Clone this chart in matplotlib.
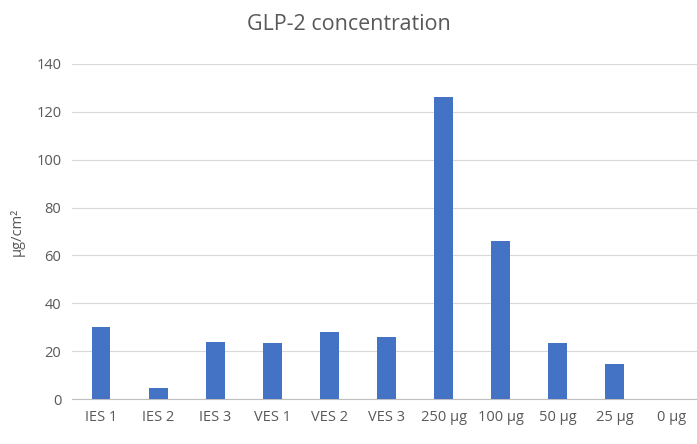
import matplotlib.pyplot as plt

categories = ["IES 1", "IES 2", "IES 3", "VES 1", "VES 2", "VES 3",
              "250 µg", "100 µg", "50 µg", "25 µg", "0 µg"]
values = [30, 4.5, 24, 23.5, 28, 26, 126, 66, 23.5, 14.5, 0]
yticks = [0, 20, 40, 60, 80, 100, 120, 140]

plt.rcParams["font.family"] = "Open Sans"
fig = plt.figure(figsize=(6.97, 4.44), dpi=100)
ax = fig.add_axes([0.104, 0.101, 0.901, 0.755])

x = range(len(categories))
ax.bar(x, values, width=0.33, color="#4472C4", zorder=3)
ax.set_xlim(-0.5, len(categories) - 0.5)
ax.set_ylim(0, 140)
ax.set_yticks(yticks)
ax.set_xticks(list(x))
ax.set_xticklabels(categories)
ax.grid(axis="y", color="#D9D9D9", linewidth=0.8, zorder=0)
for s in ["top", "right", "left"]:
    ax.spines[s].set_visible(False)
ax.spines["bottom"].set_color("#BFBFBF")
ax.tick_params(length=0, labelsize=10.5, colors="#595959", pad=8)
ax.set_ylabel("µg/cm²", fontsize=10.5, color="#595959", labelpad=8)
fig.text(0.5, 0.945, "GLP-2 concentration", ha="center", va="center",
         fontsize=15.5, color="#595959")

fig.savefig("out.png", dpi=100)
